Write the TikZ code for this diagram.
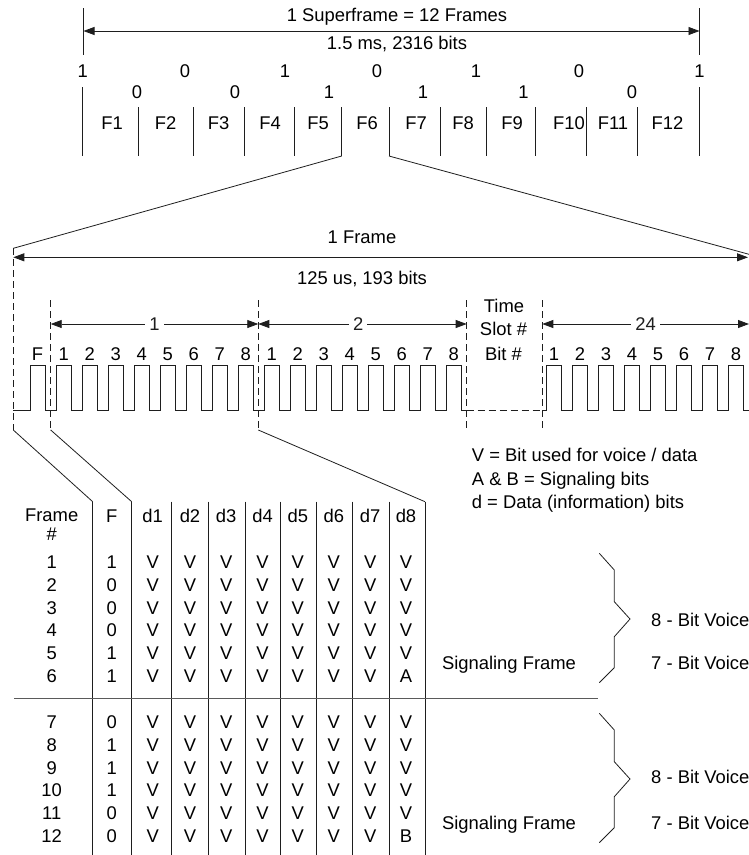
\documentclass[tikz,border=0pt]{standalone}
\usepackage{fontspec}
\setmainfont{Liberation Sans}
\usetikzlibrary{arrows.meta, calc}
\definecolor{tdmgrey}{HTML}{5A5A5A}
\definecolor{tdmline}{HTML}{1E1E1E}

\tikzset{
  lbl/.style={inner sep=0pt, text height=13.1pt, text depth=0pt,
    font=\fontsize{18.4}{21}\selectfont},
  dimarrow/.style={line width=0.8pt, tdmline,
    {Triangle[length=11pt,width=8pt]}-{Triangle[length=11pt,width=8pt]}},
  slotlbl/.style={lbl, fill=white, inner xsep=4pt},
  guide/.style={line width=0.8pt, tdmline, dash pattern=on 7pt off 4pt},
  rule/.style={line width=0.8pt, tdmline},
  pulse/.style={line width=0.8pt, tdmline, line join=miter},
}

\begin{document}
\begin{tikzpicture}[x=1pt, y=-1pt]
\useasboundingbox (0,0) rectangle (749,855);

% superframe span
\coordinate (sfLt) at (83.5,8);
\coordinate (sfLb) at (83.5,55);
\coordinate (sfRt) at (699.5,8);
\coordinate (sfRb) at (699.5,55);
\draw[rule] (sfLt) -- (sfLb);
\draw[rule] (sfRt) -- (sfRb);
\coordinate (sfA) at (83.5,31);
\coordinate (sfB) at (699.5,31);
\draw[dimarrow] (sfA) -- (sfB);
\node[lbl] (sfTitle) at (397,15) {1 Superframe = 12 Frames};
\node[lbl] (sfTime) at (397,43.3) {1.5 ms, 2316 bits};

% framing bits of the superframe
\foreach \x/\b [count=\i] in {82.7/1,185/0,285/1,377/0,476/1,579/0,699.5/1}
  \node[lbl] (sbUp\i) at (\x,71) {\b};
\foreach \x/\b [count=\i] in {137/0,235/0,329/1,423/1,523.5/1,632/0}
  \node[lbl] (sbLo\i) at (\x,91.7) {\b};

% frame cells F1..F12
\foreach \x [count=\i] in {82.7,138.3,193.3,244,294,341.7,389,440,486,535,586.7,637.7,699.3}{
  \coordinate (fdT\i) at (\x,107);
  \coordinate (fdB\i) at (\x,156);
  \draw[rule] (fdT\i) -- (fdB\i);
}
\coordinate (fdX1) at (82.7,87);
\coordinate (fdX13) at (699.3,87);
\draw[rule] (fdX1) -- (fdT1);
\draw[rule] (fdX13) -- (fdT13);
\foreach \x [count=\i] in {112,165.5,218.7,270,318,367,416,463,512,569,613,667.5}
  \node[lbl] (fLab\i) at (\x,123.3) {F\i};

% blow-up of F6
\coordinate (frL) at (13.3,248.3);
\coordinate (frR) at (749,254.3);
\draw[rule] (fdB6) -- (frL);
\draw[rule] (fdB7) -- (frR);
\coordinate (frA) at (13.3,257.3);
\coordinate (frB) at (748,257.3);
\draw[dimarrow] (frA) -- (frB);
\node[lbl] (frTitle) at (362,236.7) {1 Frame};
\node[lbl] (frTime) at (362,278.3) {125 us, 193 bits};

% slot guides
\coordinate (g0b) at (13.3,430);
\draw[guide] (frL) -- (g0b);
\foreach \n/\x in {1/50.7,2/258.3,3/466.7,4/542.3}{
  \coordinate (g\n t) at (\x,300);
  \coordinate (g\n b) at (\x,430);
  \coordinate (g\n a) at (\x,324);
  \draw[guide] (g\n t) -- (g\n b);
}
\coordinate (g5a) at (749,324);
\draw[dimarrow] (g1a) -- (g2a) node[slotlbl, midway] (slot1) {1};
\draw[dimarrow] (g2a) -- (g3a) node[slotlbl, pos=0.48] (slot2) {2};
\draw[dimarrow] (g4a) -- (g5a) node[slotlbl, midway] (slot24) {24};
\node[lbl] (tsTime) at (504,306) {Time};
\node[lbl] (tsSlot) at (503.5,329.3) {Slot \#};
\node[lbl] (tsBit) at (503.5,354) {Bit \#};

% bit numbers
\node[lbl] (bitF) at (37.5,354) {F};
\foreach \k in {1,...,16}{
  \pgfmathtruncatemacro\bn{mod(\k-1,8)+1}
  \node[lbl] (bitA\k) at ({37.75+26*\k},354) {\bn};
}
\foreach \j in {1,...,8}
  \node[lbl] (bitC\j) at ({528+26*\j},354) {\j};

% pulse train
\coordinate (w0) at (13.3,410);
\draw[pulse] (w0) \foreach \k in {0,...,16}{
    -- ({30.5+26*\k},410) -- ++(0,-45) -- ++(14.5,0) -- ++(0,45) }
  -- (g3b |- w0);
\draw[guide] (g3b |- w0) -- (g4b |- w0);
\draw[pulse] (g4b |- w0) \foreach \j in {0,...,7}{
    -- ({546.7+26*\j},410) -- ++(0,-45) -- ++(14.5,0) -- ++(0,45) }
  -- (749,410);

% legend
\node[lbl, anchor=west] (keyV) at (471.7,455) {V = Bit used for voice / data};
\node[lbl, anchor=west] (keyAB) at (471.7,479.3) {A \& B = Signaling bits};
\node[lbl, anchor=west] (keyD) at (471.7,501.7) {d = Data (information) bits};

% table
\foreach \x [count=\i] in {92.7,131.7,171.7,208.3,245,280.7,316,352.7,389.3,425}{
  \coordinate (colT\i) at (\x,501.7);
  \coordinate (colB\i) at (\x,855);
  \draw[rule] (colT\i) -- (colB\i);
}
\draw[rule] (g0b) -- (colT1);
\draw[rule] (g1b) -- (colT2);
\draw[rule] (g2b) -- (colT10);
\coordinate (sepL) at (14,698);
\coordinate (sepR) at (598,698);
\draw[line width=0.9pt, tdmgrey] (sepL) -- (sepR);

\node[inner sep=0pt, anchor=north, align=center,
  font=\fontsize{18.4}{18.2}\selectfont] (hFrame) at (51.7,509) {Frame\\\#};
\node[lbl] (hF) at (111.7,516) {F};
\foreach \cx [count=\j] in {152.7,190,226.2,262.6,297.8,333.8,370.2,406}
  \node[lbl] (hd\j) at (\cx,516) {d\j};

\foreach \f/\last [count=\i] in {1/V,0/V,0/V,0/V,1/V,1/A,0/V,1/V,1/V,1/V,0/V,0/B}{
  \pgfmathsetmacro\ry{\i<7 ? 561.7+22.9*(\i-1) : 721.7+22.9*(\i-7)}
  \node[lbl] (fn\i) at (51.7,\ry) {\i};
  \node[lbl] (fv\i) at (111.7,\ry) {\f};
  \foreach \cx [count=\j] in {152.7,190,226.2,262.6,297.8,333.8,370.2}
    \node[lbl] (dv\i-\j) at (\cx,\ry) {V};
  \node[lbl] (dv\i-8) at (406,\ry) {\last};
}

% signaling groups
\node[lbl] (sigA) at (509,663.3) {Signaling Frame};
\node[lbl] (sigB) at (509,822.7) {Signaling Frame};
\foreach \dy in {0,160}
  \draw[rule] (599.3,553.3+\dy) -- (614.3,570+\dy) -- (614.3,601.7+\dy)
    -- (630,619+\dy) -- (614.3,636.7+\dy) -- (614.3,667.7+\dy) -- (599.3,682.7+\dy);
\node[lbl, anchor=west] (v8a) at (651,620) {8 - Bit Voice};
\node[lbl, anchor=west] (v7a) at (651,662.7) {7 - Bit Voice};
\node[lbl, anchor=west] (v8b) at (651,777.3) {8 - Bit Voice};
\node[lbl, anchor=west] (v7b) at (651,822.7) {7 - Bit Voice};
\end{tikzpicture}
\end{document}
